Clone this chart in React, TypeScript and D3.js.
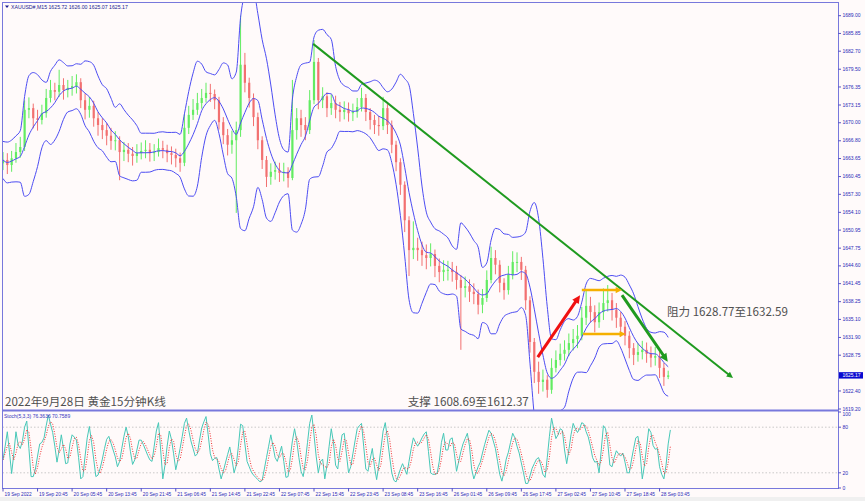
import React from "react";
import * as d3 from "d3";

const W = 865;
const H = 501;

// XAUUSD hourly candles
const firstOpen = 1662.8;
const closes = [
  1663.4, 1662.5, 1663.7, 1664.8, 1665.7, 1672.3, 1672.6, 1670.8, 1670.5, 1671.7,
  1674.4, 1675.8, 1675.5, 1676.7, 1675.8, 1676.2, 1676.5, 1677.2, 1674.0, 1672.3,
  1673.0, 1670.8, 1669.6, 1668.7, 1667.7, 1666.8, 1666.9, 1664.8, 1665.2, 1664.5,
  1664.1, 1664.6, 1665.0, 1665.2, 1664.6, 1664.8, 1665.5, 1665.2, 1664.6, 1664.3,
  1663.7, 1662.9, 1669.1, 1671.4, 1672.3, 1673.5, 1674.4, 1675.3, 1675.1, 1674.0,
  1670.1, 1667.8, 1666.1, 1666.9, 1668.7, 1680.3, 1677.1, 1674.4, 1671.0, 1666.9,
  1663.4, 1660.4, 1661.3, 1661.6, 1661.1, 1661.3, 1660.2, 1668.7, 1670.8, 1669.6,
  1668.7, 1674.0, 1680.8, 1674.0, 1674.7, 1672.6, 1673.5, 1672.3, 1671.9, 1672.3,
  1671.7, 1671.9, 1672.8, 1674.4, 1671.9, 1670.5, 1669.6, 1669.4, 1672.6, 1669.6,
  1666.1, 1663.0, 1659.0, 1652.7, 1647.4, 1647.8, 1647.4, 1646.5, 1646.0, 1646.7,
  1644.6, 1643.5, 1643.9, 1643.9, 1643.5, 1642.1, 1640.7, 1641.0, 1640.0, 1639.6,
  1637.7, 1638.9, 1642.1, 1646.0, 1644.8, 1641.6, 1640.3, 1643.0, 1645.3, 1645.3,
  1643.9, 1638.5, 1631.1, 1625.8, 1624.0, 1624.4, 1622.6, 1626.5, 1627.9, 1629.0,
  1629.7, 1630.9, 1631.6, 1632.2, 1635.4, 1637.5, 1636.4, 1634.6, 1636.4, 1638.0,
  1638.5, 1636.8, 1635.4, 1633.8, 1632.2, 1630.0, 1628.8, 1629.3, 1629.7, 1629.0,
  1628.3, 1628.6, 1626.5, 1624.9, 1625.17,
];
const highs = [
  1664.8, 1664.6, 1665.0, 1666.4, 1667.5, 1674.0, 1674.5, 1673.4, 1672.3, 1673.2,
  1676.0, 1677.6, 1677.1, 1679.4, 1677.9, 1677.6, 1678.3, 1678.6, 1677.9, 1675.2,
  1674.6, 1673.9, 1671.9, 1670.8, 1669.9, 1669.1, 1668.5, 1667.6, 1666.6, 1666.4,
  1665.7, 1666.2, 1666.5, 1666.9, 1666.4, 1666.2, 1667.2, 1666.8, 1666.1, 1665.8,
  1665.4, 1664.7, 1671.5, 1673.0, 1674.2, 1675.3, 1676.0, 1677.1, 1676.9, 1675.9,
  1674.6, 1671.0, 1668.9, 1668.6, 1670.2, 1689.0, 1682.4, 1678.0, 1675.2, 1671.8,
  1667.6, 1664.1, 1662.8, 1663.1, 1662.9, 1662.9, 1662.1, 1677.6, 1672.6, 1672.3,
  1671.0, 1675.8, 1684.7, 1681.5, 1676.3, 1675.4, 1675.0, 1674.8, 1673.7, 1673.8,
  1673.6, 1673.4, 1674.4, 1676.2, 1675.1, 1672.6, 1671.4, 1671.2, 1674.6, 1673.3,
  1670.4, 1666.8, 1663.7, 1659.6, 1653.4, 1652.5, 1649.6, 1648.9, 1648.4, 1648.6,
  1647.5, 1645.9, 1645.6, 1645.5, 1645.3, 1644.6, 1643.0, 1642.7, 1642.2, 1641.5,
  1640.4, 1640.5, 1643.8, 1648.0, 1647.4, 1645.6, 1642.4, 1644.6, 1647.2, 1647.0,
  1646.2, 1644.6, 1639.2, 1631.8, 1627.6, 1626.2, 1625.2, 1628.2, 1629.6, 1630.8,
  1631.4, 1632.6, 1633.4, 1634.1, 1637.3, 1640.2, 1639.1, 1637.6, 1638.1, 1640.6,
  1641.2, 1639.8, 1638.0, 1636.4, 1634.8, 1633.0, 1630.9, 1630.9, 1631.3, 1631.0,
  1630.3, 1630.2, 1629.3, 1627.4, 1626.0,
];
const lows = [
  1661.6, 1660.9, 1661.3, 1662.9, 1663.8, 1665.0, 1670.8, 1669.0, 1668.6, 1669.7,
  1670.9, 1673.6, 1674.0, 1674.6, 1674.1, 1674.5, 1674.8, 1675.2, 1672.6, 1670.6,
  1670.9, 1669.3, 1667.7, 1667.1, 1666.0, 1665.2, 1665.1, 1659.8, 1663.2, 1663.0,
  1662.4, 1662.9, 1663.5, 1663.7, 1663.1, 1663.2, 1664.0, 1663.7, 1663.0, 1662.6,
  1662.1, 1661.3, 1662.3, 1668.0, 1670.5, 1671.4, 1672.5, 1673.6, 1673.7, 1672.4,
  1668.8, 1666.2, 1664.2, 1664.5, 1654.0, 1667.5, 1675.4, 1672.7, 1669.4, 1665.3,
  1661.8, 1658.6, 1659.0, 1659.9, 1659.5, 1659.6, 1658.5, 1659.8, 1667.0, 1667.5,
  1666.9, 1668.0, 1673.3, 1672.4, 1672.6, 1671.0, 1671.4, 1670.8, 1670.2, 1670.6,
  1670.2, 1670.3, 1670.9, 1672.0, 1670.3, 1668.8, 1668.0, 1667.7, 1668.7, 1668.0,
  1664.6, 1661.4, 1657.2, 1650.6, 1642.8, 1645.8, 1645.5, 1644.6, 1644.0, 1644.5,
  1642.6, 1641.7, 1641.9, 1642.0, 1641.8, 1640.4, 1629.7, 1639.0, 1638.2, 1637.8,
  1636.0, 1636.2, 1638.2, 1641.5, 1643.1, 1639.9, 1638.6, 1639.5, 1642.2, 1643.5,
  1642.1, 1636.8, 1629.2, 1623.8, 1621.9, 1622.3, 1621.2, 1621.9, 1625.7, 1626.9,
  1627.8, 1628.6, 1629.6, 1630.0, 1631.4, 1634.1, 1634.6, 1632.8, 1633.6, 1635.0,
  1636.5, 1634.9, 1633.6, 1632.0, 1630.5, 1628.2, 1627.0, 1627.6, 1628.0, 1627.4,
  1626.6, 1626.9, 1624.7, 1623.3, 1624.5,
];

// Stoch(5,3,3) main line, two samples per candle
const stochK = [
  37, 55, 74, 47, 19, 45, 74, 57, 52, 62, 80, 88, 52, 15, 15, 25, 42, 58, 60, 66,
  82, 96, 84, 73, 55, 34, 50, 70, 52, 32, 33, 58, 70, 67, 63, 40, 12, 15, 42, 66,
  81, 60, 38, 15, 17, 26, 38, 52, 64, 68, 59, 50, 41, 28, 35, 52, 68, 80, 68, 48,
  31, 37, 50, 63, 63, 57, 50, 43, 37, 35, 55, 75, 86, 50, 12, 30, 55, 75, 64, 45,
  24, 37, 52, 68, 85, 92, 76, 62, 52, 42, 45, 63, 79, 87, 94, 70, 45, 36, 39, 40,
  25, 12, 22, 33, 44, 54, 38, 20, 30, 55, 84, 82, 58, 35, 28, 21, 17, 14, 11, 8,
  10, 25, 40, 55, 70, 55, 40, 35, 45, 55, 35, 14, 15, 40, 62, 78, 62, 40, 22, 15,
  35, 60, 85, 96, 70, 42, 20, 35, 38, 12, 30, 55, 78, 60, 30, 25, 50, 70, 72, 45,
  20, 28, 45, 62, 78, 82, 85, 55, 25, 22, 38, 52, 28, 11, 30, 52, 75, 86, 65, 42,
  20, 10, 8, 16, 25, 32, 25, 18, 35, 52, 66, 60, 55, 60, 66, 71, 74, 48, 20, 18,
  18, 19, 35, 60, 72, 50, 50, 64, 66, 45, 22, 35, 48, 58, 65, 72, 55, 25, 12, 20,
  28, 34, 46, 57, 67, 76, 72, 62, 52, 35, 18, 9, 22, 38, 47, 60, 72, 66, 55, 46,
  33, 20, 6, 6, 16, 26, 32, 38, 40, 30, 18, 14, 40, 68, 92, 78, 65, 70, 78, 76,
  50, 32, 50, 70, 85, 78, 73, 78, 86, 84, 74, 67, 55, 40, 34, 35, 20, 50, 82, 78,
  60, 30, 28, 40, 49, 45, 42, 46, 34, 20, 20, 37, 52, 66, 68, 45, 12, 30, 54, 78,
  73, 56, 51, 52, 28, 18, 12, 30, 58, 76.4,
];

// 1625.55 sits under the last-price box in the reference, so it is not shown
const priceTicks = [
  "1689.00", "1685.85", "1682.70", "1679.50", "1676.35", "1673.15", "1670.00",
  "1666.80", "1663.65", "1660.45", "1657.30", "1654.10", "1650.95", "1647.75",
  "1644.60", "1641.45", "1638.25", "1635.10", "1631.90", "1628.75",
  "1622.40", "1619.20",
];
const stochTicks = [100, 80, 20, 0];
const stochLevels = [80, 20];
const timeLabels = [
  "19 Sep 2022", "19 Sep 20:45", "20 Sep 05:45", "20 Sep 13:45", "20 Sep 21:45",
  "21 Sep 06:45", "21 Sep 14:45", "21 Sep 22:45", "22 Sep 07:45", "22 Sep 15:45",
  "22 Sep 23:45", "23 Sep 08:45", "23 Sep 16:45", "26 Sep 01:45", "26 Sep 09:45",
  "26 Sep 17:45", "27 Sep 02:45", "27 Sep 10:45", "27 Sep 18:45", "28 Sep 03:45",
];
const barsPerLabel = 8;
const lastPrice = 1625.17;
const headerText = "XAUUSD#,M15  1625.72 1626.00 1625.07 1625.17";
const stochText = "Stoch(5,3,3) 76.3636 70.7589";

// drawn annotations: [bar index, price]
const arrows = [
  { kind: "trend", from: [71.8, 1684.0], to: [169, 1624.7] },
  { kind: "down", from: [143.3, 1639.4], to: [153.9, 1627.6] },
  { kind: "up", from: [123.8, 1628.4], to: [133.6, 1639.4] },
  { kind: "level", from: [134, 1640.3], to: [143.3, 1640.3] },
  { kind: "level", from: [134.3, 1632.5], to: [144.2, 1632.5] },
];
const notes = [
  { text: "阻力 1628.77至1632.59", at: [153.7, 1635.7] },
  { text: "支撑 1608.69至1612.37", at: [93.7, 1619.75] },
];
const title = "2022年9月28日 黄金15分钟K线";

const arrowStyle = {
  trend: { color: "#1f9a1f", width: 2, head: 7 },
  down: { color: "#1f9a1f", width: 3, head: 9 },
  up: { color: "#f01010", width: 3, head: 9 },
  level: { color: "#f5b000", width: 2.5, head: 7 },
};

const AX = "#2a2ab8";
const FRAME = "#7878dc";
const FONT = "'Liberation Sans', Arial, sans-serif";
const CJK = "'Noto Sans CJK SC', 'Noto Sans', sans-serif";

function head(x1, y1, x2, y2, s) {
  const a = Math.atan2(y2 - y1, x2 - x1);
  const p = (ang, r) => [x2 - r * Math.cos(a + ang), y2 - r * Math.sin(a + ang)];
  return [[x2, y2], p(0.45, s), p(-0.45, s)].map((d) => d.join(",")).join(" ");
}

export default function App() {
  const left = 2.5;
  const right = 838.5;
  const mainTop = 2.5;
  const mainBottom = 410;
  const stBottom = 488.5;

  const x = d3.scaleLinear().domain([0, closes.length - 1]).range([3, 668.2]);
  const y = d3.scaleLinear().domain([1619.2, 1689.0]).range([409, 15.7]);
  const sy = d3.scaleLinear().domain([0, 100]).range([488, 412]);

  const opens = closes.map((c, i) => (i === 0 ? firstOpen : closes[i - 1]));

  // Bollinger bands: mean of closes, spread from the whole bar range in the window
  const period = 5;
  const dev = 2.5;
  const bands = closes.map((_, i) => {
    const s = Math.max(0, i - period + 1);
    const win = closes.slice(s, i + 1);
    const pool = win.concat(highs.slice(s, i + 1), lows.slice(s, i + 1));
    const m = d3.mean(win);
    const sd = Math.sqrt(d3.mean(pool, (v) => (v - m) ** 2));
    return { i, m, up: m + dev * sd, lo: m - dev * sd };
  });
  const band = (key) =>
    d3.line().x((d) => x(d.i)).y((d) => y(d[key])).curve(d3.curveMonotoneX)(bands);

  const stochD = stochK.map((_, j) => d3.mean(stochK.slice(Math.max(0, j - 2), j + 1)));
  const sLine = (arr) =>
    d3.line().x((_, j) => x(j / 2)).y((d) => sy(d)).curve(d3.curveLinear)(arr);

  const bodyW = 2.2;

  return (
    <div style={{ position: "absolute", left: 0, top: 0, width: W, height: H }}>
      <svg width={W} height={H} style={{ display: "block" }}>
        <defs>
          <clipPath id="mainClip">
            <rect x={left} y={mainTop} width={right - left} height={mainBottom - mainTop} />
          </clipPath>
          <clipPath id="stClip">
            <rect x={left} y={411} width={right - left} height={stBottom - 411} />
          </clipPath>
        </defs>
        <rect width={W} height={H} fill="#fffafa" />
        <rect x={0} y={497} width={W} height={4} fill="#f0f0f0" />

        {/* main panel */}
        <g clipPath="url(#mainClip)">
          {closes.map((c, i) => {
            const o = opens[i];
            const up = c >= o;
            const col = up ? "#62ec62" : "#f27070";
            const top = y(Math.max(o, c));
            const bot = y(Math.min(o, c));
            return (
              <g key={i}>
                <line x1={x(i)} x2={x(i)} y1={y(highs[i])} y2={y(lows[i])} stroke={col} strokeWidth={1} />
                <rect x={x(i) - bodyW / 2} y={top} width={bodyW} height={Math.max(1, bot - top)} fill={col} />
              </g>
            );
          })}
          {["up", "m", "lo"].map((k) => (
            <path key={k} d={band(k)} fill="none" stroke="#4c4cf2" strokeWidth={1} />
          ))}
          {arrows.map((a, i) => {
            const st = arrowStyle[a.kind];
            const x1 = x(a.from[0]);
            const y1 = y(a.from[1]);
            const x2 = x(a.to[0]);
            const y2 = y(a.to[1]);
            const L = Math.hypot(x2 - x1, y2 - y1);
            const ex = x2 - ((x2 - x1) / L) * st.head * 0.8;
            const ey = y2 - ((y2 - y1) / L) * st.head * 0.8;
            return (
              <g key={i}>
                <line x1={x1} y1={y1} x2={ex} y2={ey} stroke={st.color} strokeWidth={st.width} />
                <polygon points={head(x1, y1, x2, y2, st.head)} fill={st.color} />
              </g>
            );
          })}
        </g>

        {notes.map((n, i) => (
          <text key={i} x={x(n.at[0])} y={y(n.at[1])} fontFamily={CJK} fontSize={11.6} fill="#505050">
            {n.text}
          </text>
        ))}
        <text x={5} y={406} fontFamily={CJK} fontSize={11.6} fill="#505050">
          {title}
        </text>

        {/* header */}
        <polygon points="5,5.5 9,5.5 7,8" fill="#1a1a90" />
        <text x={11} y={8.5} fontFamily={FONT} fontSize={5.2} fill="#1a1a90">
          {headerText}
        </text>

        {/* stochastic panel */}
        {stochLevels.map((v) => (
          <line key={v} x1={left} x2={right} y1={sy(v)} y2={sy(v)} stroke="#bdbdbd" strokeWidth={0.8} strokeDasharray="1.5 2" />
        ))}
        <g clipPath="url(#stClip)">
          <path d={sLine(stochK)} fill="none" stroke="#47c7b7" strokeWidth={1} />
          <path d={sLine(stochD)} fill="none" stroke="#ee3030" strokeWidth={1} strokeDasharray="1 1.5" />
        </g>
        <text x={4} y={418} fontFamily={FONT} fontSize={5} fill="#3535c0">
          {stochText}
        </text>

        {/* frame */}
        <rect x={left} y={mainTop} width={right - left} height={stBottom - mainTop} fill="none" stroke={FRAME} strokeWidth={1} />
        <line x1={left} x2={right} y1={mainBottom + 0.5} y2={mainBottom + 0.5} stroke={FRAME} strokeWidth={2} />

        {/* price axis */}
        {priceTicks.map((t) => (
          <g key={t}>
            <line x1={right} x2={right + 2.5} y1={y(+t)} y2={y(+t)} stroke={AX} strokeWidth={0.8} />
            <text x={right + 4} y={y(+t) + 1.6} fontFamily={FONT} fontSize={5} fill={AX}>
              {t}
            </text>
          </g>
        ))}
        <rect x={right + 0.5} y={y(lastPrice) - 3.2} width={24} height={6.4} fill="#0a0ad0" />
        <text x={right + 4} y={y(lastPrice) + 1.8} fontFamily={FONT} fontSize={5} fill="#ffffff">
          {lastPrice.toFixed(2)}
        </text>
        {stochTicks.map((t) => (
          <g key={t}>
            <line x1={right} x2={right + 2.5} y1={sy(t)} y2={sy(t)} stroke={AX} strokeWidth={0.8} />
            <text x={right + 4} y={sy(t) + (t === 100 ? 4.2 : 1.8)} fontFamily={FONT} fontSize={5} fill={AX}>
              {t}
            </text>
          </g>
        ))}

        {/* time axis */}
        {timeLabels.map((t, k) => {
          const xx = x(k * barsPerLabel);
          return (
            <g key={t}>
              <line x1={xx} x2={xx} y1={stBottom} y2={stBottom + 3} stroke={AX} strokeWidth={0.8} />
              <text x={xx + 1.5} y={495.5} fontFamily={FONT} fontSize={4.8} fill={AX}>
                {t}
              </text>
            </g>
          );
        })}
      </svg>
    </div>
  );
}
